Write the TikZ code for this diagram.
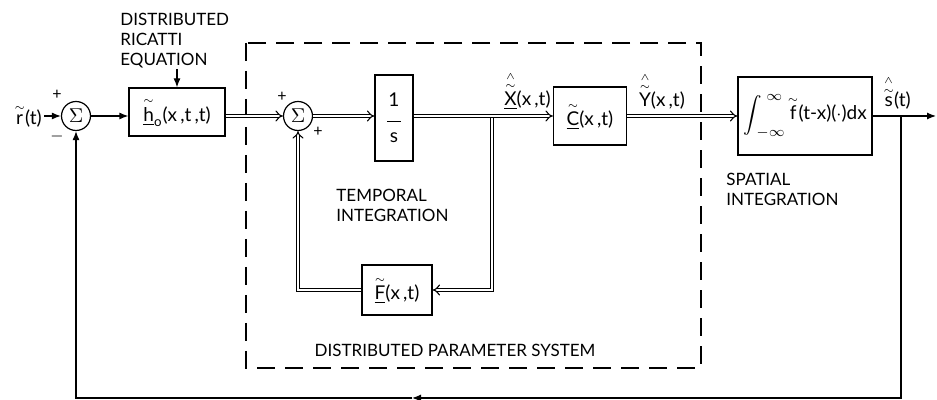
\documentclass[tikz,border=0pt]{standalone}
\usepackage{amsmath}
\usepackage{fontspec}
\setmainfont{Lato}
\setsansfont{Lato}
\usetikzlibrary{arrows.meta,positioning,calc}
\newcommand{\til}[1]{\overset{\scriptscriptstyle\sim}{#1}}
\newcommand{\hatil}[1]{\overset{\scriptscriptstyle\wedge}{\til{#1}}}
\tikzset{blk/.style={draw,line width=.6pt,inner sep=1pt,align=center,font=\fontsize{9.5}{11}\selectfont},
  sumnode/.style={circle,draw,line width=.6pt,minimum size=14.5pt,inner sep=0pt},
  vec/.style={double,line width=.55pt,double distance=1.3pt,-{Implies}},
  sig/.style={line width=.6pt,-{Latex[length=4.5pt,width=3.5pt]}},
  captxt/.style={font=\fontsize{8.5}{10}\selectfont,align=left,inner sep=0pt},
  sgn/.style={font=\footnotesize,inner sep=0pt},
  lab/.style={font=\fontsize{9.5}{11}\selectfont,inner sep=1pt}}
\begin{document}
\begin{tikzpicture}[x=.5pt,y=-.5pt]
\useasboundingbox (0,0) rectangle (937,400);
% Outer loop: reference, gain and summing junction.
\node[lab] (rIn) at (28,116) {$\til{\mathsf{r}}$(t)};
\node[sumnode] (sumA) at (76,116) {$\Sigma$};
\node[sgn] (pA) at (57,95) {+};
\node[sgn] (mA) at (57,137) {$-$};
\node[blk,minimum width=48pt,minimum height=24pt] (gain) at (177,112)
  {$\til{\underline{\mathsf{h}}}_{\mathsf{o}}$(x\,,t\,,t)};
\node[captxt,anchor=west] (ricatti) at (120,41) {DISTRIBUTED\\RICATTI\\EQUATION};

% Distributed parameter system.
\draw[dashed,dash pattern=on 9pt off 5pt,line width=.6pt] (246,43) rectangle (701,368);
\node[sumnode] (sumB) at (298,116) {$\Sigma$};
\node[sgn] (pB) at (282,97) {+};
\node[sgn] (pC) at (318,132) {+};
\node[blk,minimum width=19pt,minimum height=43pt] (integ) at (394,118)
  {1\\\rule[3.5pt]{7pt}{.6pt}\\[-4pt]s};
\node[blk,minimum width=36.5pt,minimum height=29pt] (outC) at (590,116)
  {$\til{\underline{\mathsf{C}}}$(x\,,t)};
\node[blk,minimum width=35pt,minimum height=25pt] (fbF) at (397,290)
  {$\til{\underline{\mathsf{F}}}$(x\,,t)};
\node[lab,anchor=south east] (xLab) at (553,112) {$\hatil{\underline{\mathsf{X}}}$(x\,,t)};
\node[lab,anchor=south] (yLab) at (662,112) {$\hatil{\mathsf{Y}}$(x\,,t)};
\node[captxt,anchor=west] (temp) at (336,205) {TEMPORAL\\INTEGRATION};
\node[captxt] (dps) at (455,350) {DISTRIBUTED PARAMETER SYSTEM};
\coordinate (tapX) at (492,116);
\coordinate (fbR) at (492,290);

% Spatial integration and output.
\node[blk,minimum width=67pt,minimum height=39pt] (spat) at (805,116)
  {$\displaystyle\int_{\,-\infty}^{\;\infty}$\kern1pt$\til{\mathsf{f}}$(t-x)($\cdot$)dx};
\node[captxt,anchor=west] (spatLab) at (726,189) {SPATIAL\\INTEGRATION};
\node[lab,anchor=south] (sLab) at (897,112) {$\hatil{\mathsf{s}}$(t)};
\coordinate (sOut) at (936,116);
\coordinate (tapS) at (901,116);
\coordinate (cornR) at (901,398);
\coordinate (midB) at (412,398);
\coordinate (cornL) at (76,398);

% Connections.
\draw[sig] (rIn) -- (sumA);
\draw[sig] (sumA) -- (sumA -| gain.west);
\draw[sig] (gain.north |- ricatti.south) -- (gain.north);
\draw[vec] (sumA -| gain.east) -- (sumB);
\draw[vec] (sumB) -- (sumB -| integ.west);
\draw[vec] (tapX) -- (fbR) -- (fbF);
\draw[vec] (fbF) -- (fbF -| sumB) -- (sumB);
\draw[vec] (sumB -| integ.east) -- (outC);
\draw[vec] (outC) -- (spat);
\draw[sig] (spat) -- (sOut);
\draw[sig] (tapS) -- (cornR) -- (midB);
\draw[sig] (midB) -- (cornL) -- (sumA);
\end{tikzpicture}
\end{document}
